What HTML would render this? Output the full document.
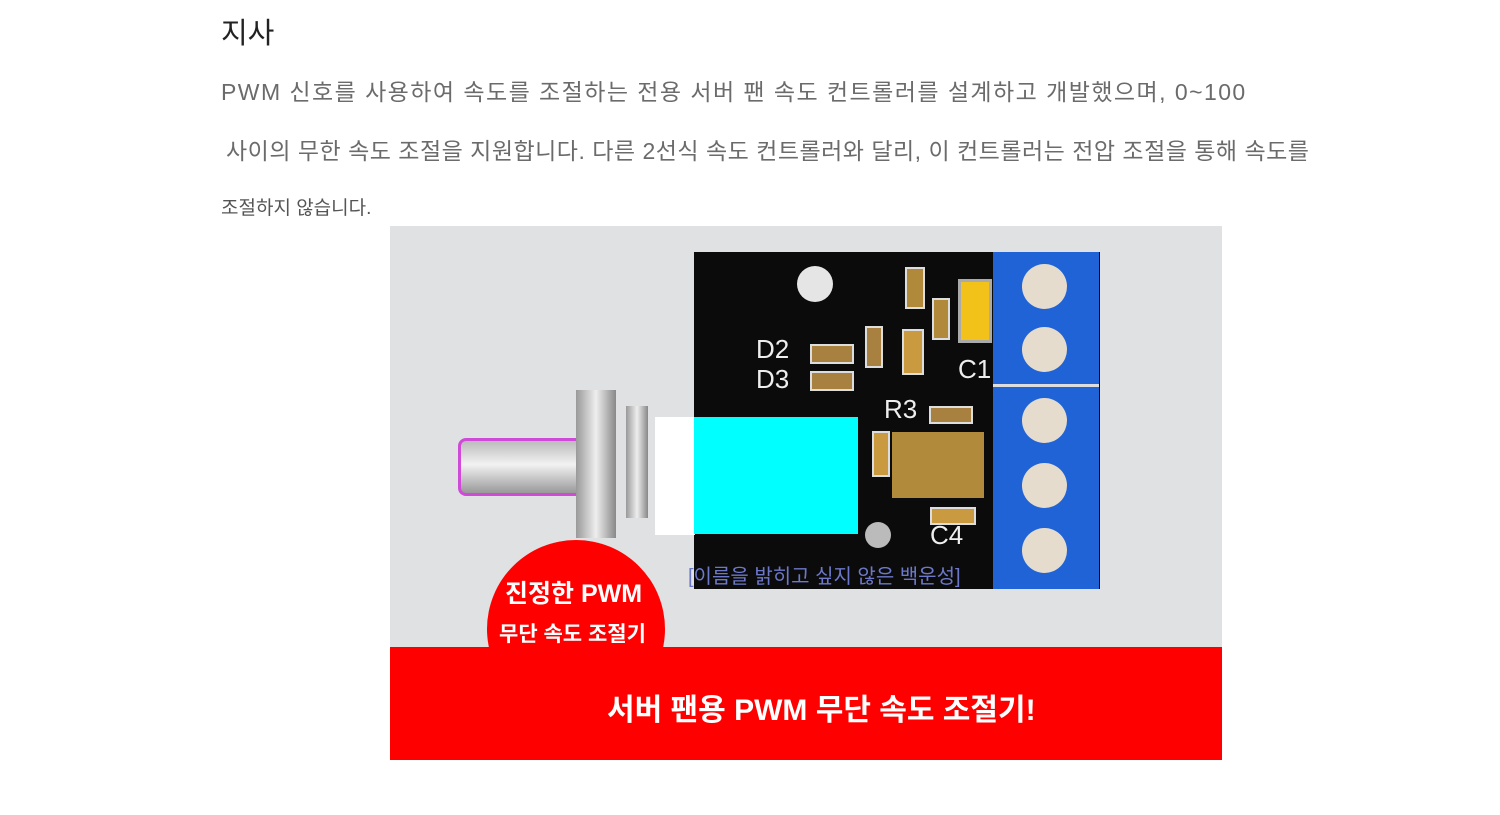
<!DOCTYPE html>
<html><head><meta charset="utf-8"><style>
body{margin:0;width:1500px;height:815px;background:#fff;position:relative;overflow:hidden;font-family:"Liberation Sans","Noto Sans CJK KR",sans-serif}
.a{position:absolute;white-space:nowrap}
.t{color:#6b6b6b;font-size:23px}
</style></head><body>
<div class="a" style="left:221px;top:10px;font-size:29px;color:#222">지사</div>
<div class="a t" style="left:221px;top:73px;letter-spacing:1.45px">PWM 신호를 사용하여 속도를 조절하는 전용 서버 팬 속도 컨트롤러를 설계하고 개발했으며, 0~100</div>
<div class="a t" style="left:226px;top:132px;letter-spacing:0.5px">사이의 무한 속도 조절을 지원합니다. 다른 2선식 속도 컨트롤러와 달리, 이 컨트롤러는 전압 조절을 통해 속도를</div>
<div class="a" style="left:221px;top:193px;font-size:19px;color:#555">조절하지 않습니다.</div>

<div class="a" style="left:390px;top:226px;width:832px;height:534px;background:#dfe1e2;overflow:hidden">
 <div class="a" style="left:304px;top:26px;width:406px;height:337px;background:#0b0b0b"></div>
 <div class="a" style="left:603px;top:26px;width:106px;height:337px;background:#1f63d6"></div>
 <div class="a" style="left:603px;top:158px;width:106px;height:3px;background:#ddd"></div>
 <div class="a" style="left:407px;top:40px;width:36px;height:36px;border-radius:50%;background:#e5e5e5"></div>
 <div class="a" style="left:475px;top:296px;width:26px;height:26px;border-radius:50%;background:#bbb"></div>
 <div class="a" style="left:632px;top:38px;width:45px;height:45px;border-radius:50%;background:#e6dccd"></div>
 <div class="a" style="left:632px;top:101px;width:45px;height:45px;border-radius:50%;background:#e6dccd"></div>
 <div class="a" style="left:632px;top:172px;width:45px;height:45px;border-radius:50%;background:#e6dccd"></div>
 <div class="a" style="left:632px;top:237px;width:45px;height:45px;border-radius:50%;background:#e6dccd"></div>
 <div class="a" style="left:632px;top:302px;width:45px;height:45px;border-radius:50%;background:#e6dccd"></div>
 <div class="a" style="left:568px;top:53px;width:28px;height:58px;background:#f2c21a;border:3px solid #aaa"></div>
 <div class="a" style="left:515px;top:41px;width:16px;height:38px;background:#b08a3a;border:2px solid #ddd"></div>
 <div class="a" style="left:542px;top:72px;width:14px;height:38px;background:#b08a3a;border:2px solid #ddd"></div>
 <div class="a" style="left:512px;top:103px;width:18px;height:42px;background:#c99a40;border:2px solid #ddd"></div>
 <div class="a" style="left:475px;top:100px;width:14px;height:38px;background:#a88040;border:2px solid #ddd"></div>
 <div class="a" style="left:420px;top:118px;width:40px;height:16px;background:#a88040;border:2px solid #ddd"></div>
 <div class="a" style="left:420px;top:145px;width:40px;height:16px;background:#a88040;border:2px solid #ddd"></div>
 <div class="a" style="left:539px;top:180px;width:40px;height:14px;background:#a88040;border:2px solid #ddd"></div>
 <div class="a" style="left:482px;top:205px;width:14px;height:42px;background:#c99a40;border:2px solid #ddd"></div>
 <div class="a" style="left:540px;top:281px;width:42px;height:14px;background:#c99a40;border:2px solid #ddd"></div>
 <div class="a" style="left:502px;top:206px;width:92px;height:66px;background:#b18a3c"></div>
 <div class="a" style="left:366px;top:108px;font-size:26px;color:#eee;line-height:30px">D2<br>D3</div>
 <div class="a" style="left:494px;top:168px;font-size:26px;color:#eee">R3</div>
 <div class="a" style="left:540px;top:294px;font-size:26px;color:#eee">C4</div>
 <div class="a" style="left:568px;top:128px;font-size:26px;color:#eee">C1</div>
 <div class="a" style="left:68px;top:212px;width:125px;height:52px;background:linear-gradient(#bbb,#f2f2f2 45%,#999);border:3px solid #d04ad8;border-right:none;border-radius:8px 0 0 8px"></div>
 <div class="a" style="left:186px;top:164px;width:40px;height:148px;background:linear-gradient(90deg,#999,#eee,#888)"></div>
 <div class="a" style="left:236px;top:180px;width:22px;height:112px;background:linear-gradient(90deg,#999,#eee,#888)"></div>
 <div class="a" style="left:265px;top:191px;width:40px;height:118px;background:#fff"></div>
 <div class="a" style="left:304px;top:191px;width:164px;height:117px;background:#00ffff"></div>
 <div class="a" style="left:298px;top:334px;font-size:20px;color:#6d78c9">[이름을 밝히고 싶지 않은 백운성]</div>
 <div class="a" style="left:97px;top:314px;width:178px;height:178px;border-radius:50%;background:#f00"></div>
 <div class="a" style="left:0;top:421px;width:832px;height:113px;background:#f00"></div>
 <div class="a" style="left:115px;top:348px;font-size:25px;font-weight:bold;color:#fff">진정한 PWM</div>
 <div class="a" style="left:109px;top:392px;font-size:21px;font-weight:bold;color:#fff">무단 속도 조절기</div>
 <div class="a" style="left:217px;top:459px;font-size:30px;font-weight:bold;color:#fff">서버 팬용 PWM 무단 속도 조절기!</div>
</div>
</body></html>
